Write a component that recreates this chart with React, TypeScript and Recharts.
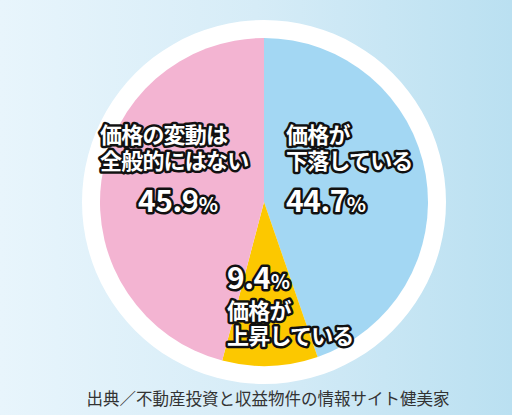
import React from 'react';
import { PieChart, Pie, Cell } from 'recharts';

// 価格の動向（健美家調べ）
const categories = ['価格が下落している', '価格が上昇している', '価格の変動は全般的にはない'];
const shares = [44.7, 9.4, 45.9];
const labelLines = [
  ['価格が', '下落している'],
  ['価格が', '上昇している'],
  ['価格の変動は', '全般的にはない'],
];
const sourceNote = '出典／不動産投資と収益物件の情報サイト健美家';

const COLORS = ['#a3d7f3', '#fcc800', '#f3b4d2'];

const data = categories.map((name, i) => ({ name, value: shares[i] }));
const ring = [{ name: 'ring', value: 1 }];

const FONT = '"Noto Sans CJK JP", "Noto Sans", sans-serif';

// label block offsets from the pie centre: [dx, dy of first line baseline, numberFirst]
const LABEL_POS: [number, number, boolean][] = [
  [22, -59, false],
  [-37, 87, true],
  [-164, -59, false],
];

const outline = {
  fill: '#fff',
  stroke: '#111',
  strokeWidth: 5,
  strokeLinejoin: 'round' as const,
  paintOrder: 'stroke' as const,
  fontFamily: FONT,
  fontWeight: 700,
};

const Num = ({ x, y, value }: { x: number; y: number; value: number }) => (
  <text x={x} y={y} {...outline} fontSize={30} letterSpacing={-0.5}>
    {value.toFixed(1)}
    <tspan fontSize={20} letterSpacing={-0.5}>%</tspan>
  </text>
);

const renderLabel = (props: any) => {
  const { cx, cy, index } = props;
  const [dx, dy, numberFirst] = LABEL_POS[index];
  const x = cx + dx;
  const y0 = cy + dy;
  const lines = labelLines[index];
  if (numberFirst) {
    return (
      <g key={`lbl-${index}`}>
        <Num x={x} y={y0} value={shares[index]} />
        {lines.map((t, i) => (
          <text key={i} x={x} y={y0 + 30 + i * 25} {...outline} fontSize={22} letterSpacing={-0.8}>
            {t}
          </text>
        ))}
      </g>
    );
  }
  return (
    <g key={`lbl-${index}`}>
      {lines.map((t, i) => (
        <text key={i} x={x} y={y0 + i * 26} {...outline} fontSize={22} letterSpacing={-0.8}>
          {t}
        </text>
      ))}
      <Num x={index === 2 ? x + 38 : x} y={y0 + 69} value={shares[index]} />
    </g>
  );
};

export default function App() {
  return (
    <div
      style={{
        position: 'absolute',
        left: 0,
        top: 0,
        width: 512,
        height: 415,
        background: 'linear-gradient(to right, #e8f5fc 0%, #d6ecf7 50%, #bae0f1 100%)',
        overflow: 'hidden',
      }}
    >
      <PieChart width={512} height={415} margin={{ top: 0, right: 0, bottom: 0, left: 0 }}>
        <Pie
          data={ring}
          dataKey="value"
          cx={264}
          cy={202}
          outerRadius={182}
          fill="#ffffff"
          stroke="none"
          isAnimationActive={false}
        />
        <Pie
          data={data}
          dataKey="value"
          cx={264}
          cy={202}
          outerRadius={164}
          startAngle={90}
          endAngle={-270}
          stroke="none"
          label={renderLabel}
          labelLine={false}
          isAnimationActive={false}
        >
          {data.map((entry, index) => (
            <Cell key={`cell-${index}`} fill={COLORS[index]} />
          ))}
        </Pie>
      </PieChart>
      <div
        style={{
          position: 'absolute',
          left: 0,
          width: 536,
          top: 386,
          textAlign: 'center',
          fontFamily: FONT,
          fontSize: 16.5,
          color: '#333',
          whiteSpace: 'nowrap',
        }}
      >
        {sourceNote}
      </div>
    </div>
  );
}
